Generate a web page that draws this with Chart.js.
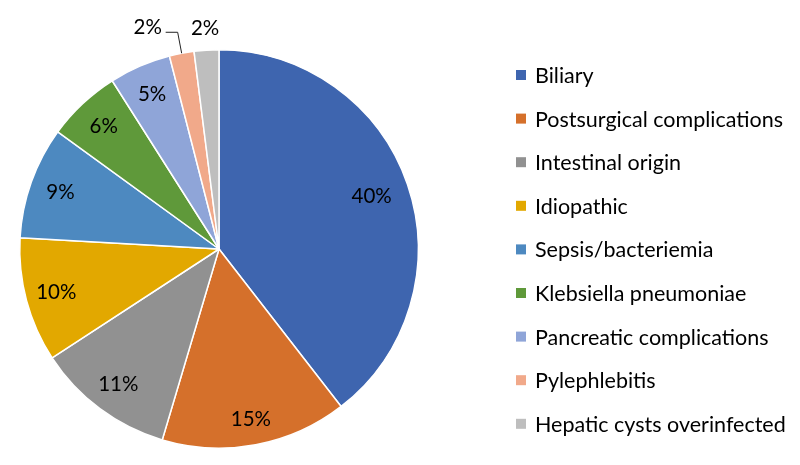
<!DOCTYPE html>
<html><head><meta charset="utf-8">
<script src="https://cdn.jsdelivr.net/npm/chart.js@4"></script>
<style>html,body{margin:0;padding:0;background:#fff}#wrap{width:800px;height:465px;position:relative}</style>
</head><body><div id="wrap"><canvas id="c"></canvas></div>
<script>
const categories = ['Biliary','Postsurgical complications','Intestinal origin','Idiopathic','Sepsis/bacteriemia','Klebsiella pneumoniae','Pancreatic complications','Pylephlebitis','Hepatic cysts overinfected'];
const values = [39.5, 15.1, 11.2, 10.1, 9.1, 6, 5, 2, 2];
const pctLabels = ['40%','15%','11%','10%','9%','6%','5%','2%','2%'];
const colors = ['#3E65AF','#D5702B','#919191','#E2A800','#4D89C0','#5F993A','#8FA5D8','#F1A98A','#BEBEBE'];

const FONT = '"Lato", "Open Sans", sans-serif';

const labelPlugin = {
  id: 'labels',
  afterDraw(chart) {
    const ctx = chart.ctx;
    const meta = chart.getDatasetMeta(0);
    ctx.save();
    ctx.fillStyle = '#000';
    ctx.font = '20.5px ' + FONT;
    ctx.textAlign = 'center';
    ctx.textBaseline = 'middle';
    const n = meta.data.length;
    meta.data.forEach((arc, i) => {
      const p = arc.getProps(['x','y','startAngle','endAngle','outerRadius']);
      const mid = (p.startAngle + p.endAngle) / 2;
      const cx = Math.cos(mid), sy = Math.sin(mid);
      if (i < n - 2) {
        const r = p.outerRadius * (i === 0 ? 0.81 : (i === 1 ? 0.87 : 0.845));
        ctx.fillText(pctLabels[i], p.x + cx * r, p.y + sy * r);
      } else if (i === n - 1) {
        const r = p.outerRadius * 1.11;
        ctx.fillText(pctLabels[i], p.x + cx * r, p.y + sy * r);
      } else {
        const ex = p.x + cx * p.outerRadius, ey = p.y + sy * p.outerRadius;
        const lx = ex - 34, ly = ey - 26;
        ctx.strokeStyle = '#222';
        ctx.lineWidth = 1;
        ctx.beginPath();
        ctx.moveTo(ex, ey);
        ctx.lineTo(ex - 4, ly + 5);
        ctx.lineTo(lx + 18, ly + 5);
        ctx.stroke();
        ctx.fillText(pctLabels[i], lx, ly);
      }
    });
    // legend
    ctx.textAlign = 'left';
    ctx.font = '21.5px ' + FONT;
    categories.forEach((c, i) => {
      const y = 75 + i * 43.6;
      ctx.fillStyle = colors[i];
      ctx.fillRect(516, y - 5, 10, 10);
      ctx.fillStyle = '#000';
      ctx.fillText(c, 535, y + 1);
    });
    ctx.restore();
  }
};

new Chart(document.getElementById('c'), {
  type: 'pie',
  data: {
    labels: categories,
    datasets: [{
      data: values,
      backgroundColor: colors,
      borderColor: '#ffffff',
      borderWidth: 1.5
    }]
  },
  options: {
    responsive: true,
    maintainAspectRatio: false,
    animation: false,
    layout: { padding: { left: 19, top: 49, right: 381, bottom: 16 } },
    plugins: { legend: { display: false }, tooltip: { enabled: false } }
  },
  plugins: [labelPlugin]
});
</script>
</body></html>
